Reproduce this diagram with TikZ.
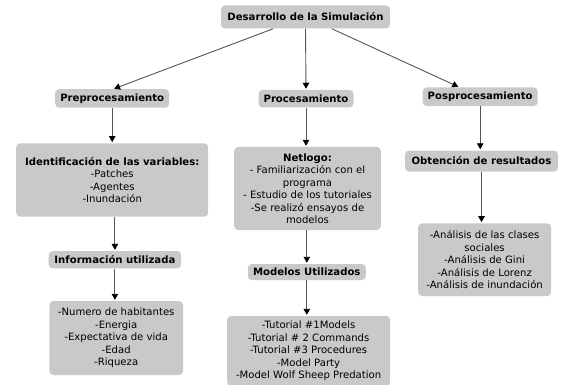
\documentclass[tikz,border=0pt]{standalone}
\usepackage{fontspec}
\setmainfont{DejaVu Sans}
\usepackage{tikz}
\usetikzlibrary{arrows.meta}
\definecolor{boxgray}{HTML}{C9C9C9}
\definecolor{linegray}{HTML}{555555}

\begin{document}
\begin{tikzpicture}[x=1pt, y=-1pt,
        >={Triangle[length=6pt, width=6.5pt, color=black]},
        font=\fontsize{10.1}{12.5}\selectfont,
        box/.style={fill=boxgray, rounded corners=4pt, align=center, inner sep=0pt},
        link/.style={->, draw=linegray, line width=0.9pt, shorten >=1pt}]
        \useasboundingbox (0,0) rectangle (562,385);
        \node[box, minimum width=169pt, minimum height=23pt] (sim) at (305.5,17) {\textbf{Desarrollo de la Simulación}};
        \node[box, minimum width=114pt, minimum height=18.5pt] (pre)  at (112.2,98.5) {\textbf{Preprocesamiento}};
        \node[box, minimum width=95pt,  minimum height=17.5pt] (proc) at (306,98.7)   {\textbf{Procesamiento}};
        \node[box, minimum width=115pt, minimum height=18.7pt] (pos)  at (480.2,96.7) {\textbf{Posprocesamiento}};
        \node[box, minimum width=192pt, minimum height=73.4pt] (ident) at (112.2,180)
            {\textbf{Identificación de las variables:}\\-Patches\\-Agentes\\-Inundación};
        \node[box, minimum width=146.6pt, minimum height=83pt] (netlogo) at (307.5,188.5)
            {\textbf{Netlogo:}\\- Familiarización con el\\programa\\- Estudio de los tutoriales\\-Se realizó ensayos de\\modelos};
        \node[box, minimum width=153pt, minimum height=21pt] (obt)  at (481.5,161) {\textbf{Obtención de resultados}};
        \node[box, minimum width=132.6pt, minimum height=17.3pt] (info) at (114.9,259.7) {\textbf{Información utilizada}};
        \node[box, minimum width=133.6pt, minimum height=74pt] (datos) at (116.2,338)
            {-Numero de habitantes\\-Energia\\-Expectativa de vida\\-Edad\\-Riqueza};
        \node[box, minimum width=118pt, minimum height=16pt] (modelos) at (306.8,272) {\textbf{Modelos Utilizados}};
        \node[box, minimum width=163pt, minimum height=70pt] (tut) at (308.6,351)
            {-Tutorial \#1Models\\-Tutorial \# 2 Commands\\-Tutorial \#3 Procedures\\-Model Party\\-Model Wolf Sheep Predation};
        \node[box, minimum width=133pt, minimum height=72.7pt] (analisis) at (484.6,259.7)
            {-Análisis de las clases\\sociales\\-Análisis de Gini\\-Análisis de Lorenz\\-Análisis de inundación};
        \draw[link] ([xshift=-32.2pt]sim.south) -- ([xshift=1pt]pre.north);
        \draw[link] (sim.south)                 -- (proc.north);
        \draw[link] ([xshift=26.2pt]sim.south)  -- ([xshift=-21pt]pos.north);
        \draw[link] (pre.south)                 -- (ident.north);
        \draw[link] (info.north |- ident.south) -- (info.north);
        \draw[link] (info.south)                -- (info.south |- datos.north);
        \draw[link] (proc.south)                -- (proc.south |- netlogo.north);
        \draw[link] (modelos.north |- netlogo.south) -- (modelos.north);
        \draw[link] (modelos.south)             -- (modelos.south |- tut.north);
        \draw[link] (pos.south)                 -- (pos.south |- obt.north);
        \draw[link] (obt.south)                 -- (obt.south |- analisis.north);
    \end{tikzpicture}
\end{document}
